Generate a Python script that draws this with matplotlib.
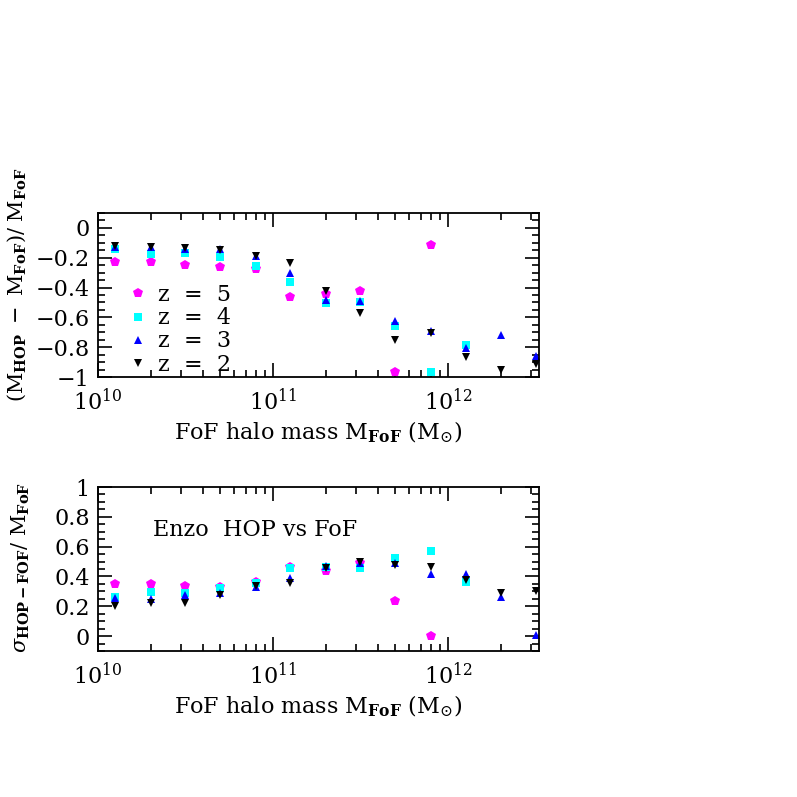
import matplotlib
matplotlib.use("Agg")
import matplotlib.pyplot as plt
from matplotlib.ticker import MultipleLocator, LogLocator, NullFormatter
import numpy as np

plt.rcParams['font.family'] = ['DejaVu Serif']
plt.rcParams['mathtext.fontset'] = 'dejavuserif'

log_mass = [10.1, 10.3, 10.5, 10.7, 10.9, 11.1, 11.3, 11.5, 11.7, 11.9, 12.1, 12.3, 12.5]

labels = ["z  =  5", "z  =  4", "z  =  3", "z  =  2"]
colors = ["#ff00ff", "#00ffff", "#0000ff", "#000000"]
markers = ["p", "s", "^", "v"]

# top panel: (M_HOP - M_FoF)/M_FoF
frac_z5 = [-0.226, -0.23, -0.248, -0.264, -0.273, -0.463, -0.44, -0.42, -0.964, -0.112]
frac_z4 = [-0.141, -0.177, -0.166, -0.197, -0.253, -0.36, -0.506, -0.494, -0.656, -0.964, -0.785]
frac_z3 = [-0.13, -0.13, -0.143, -0.141, -0.186, -0.30, -0.483, -0.488, -0.622, -0.689, -0.808, -0.72, -0.859]
frac_z2 = [-0.119, -0.125, -0.132, -0.15, -0.19, -0.233, -0.423, -0.573, -0.752, -0.707, -0.868, -0.955, -0.915]

# bottom panel: sigma/M_FoF
sig_z5 = [0.347, 0.347, 0.338, 0.329, 0.364, 0.465, 0.438, 0.488, 0.237, 0.002]
sig_z4 = [0.264, 0.297, 0.286, 0.32, 0.354, 0.454, 0.461, 0.458, 0.521, 0.573, 0.364]
sig_z3 = [0.257, 0.248, 0.275, 0.286, 0.331, 0.387, 0.47, 0.488, 0.492, 0.416, 0.414, 0.264, 0.007]
sig_z2 = [0.201, 0.224, 0.224, 0.275, 0.336, 0.358, 0.454, 0.495, 0.477, 0.461, 0.376, 0.286, 0.304]

top_series = [frac_z5, frac_z4, frac_z3, frac_z2]
bot_series = [sig_z5, sig_z4, sig_z3, sig_z2]

mass = 10 ** np.array(log_mass)

fig = plt.figure(figsize=(7.97, 7.97), dpi=100)
W, H = 797.0, 797.0
left, right = 98 / W, 539 / W
AW = 441.0
ax1 = fig.add_axes([left, 1 - 377 / H, right - left, 164 / H])
ax2 = fig.add_axes([left, 1 - 651 / H, right - left, 164 / H])

FS = 16
ms = [7, 5.5, 6, 6]
for ax, series in ((ax1, top_series), (ax2, bot_series)):
    for s, c, m, lab, sz in zip(series, colors, markers, labels, ms):
        ax.plot(mass[:len(s)], s, linestyle='none', marker=m, color=c,
                markersize=sz, markeredgewidth=0, label=lab)
    ax.set_xscale('log')
    ax.set_xlim(1e10, 10 ** 12.52)
    ax.xaxis.set_major_locator(LogLocator(base=10, numticks=10))
    ax.xaxis.set_minor_locator(LogLocator(base=10, subs=np.arange(2, 10), numticks=20))
    ax.xaxis.set_minor_formatter(NullFormatter())
    ax.tick_params(which='both', direction='in', top=True, right=True,
                   labelsize=FS, width=1.2, pad=6)
    ax.tick_params(axis='x', which='both', pad=8)
    ax.tick_params(which='major', length=10)
    ax.tick_params(which='minor', length=5)
    for sp in ax.spines.values():
        sp.set_linewidth(1.3)
    ax.set_xlabel(r'FoF halo mass $\mathrm{M_{\mathbf{FoF}}}$ $(\mathrm{M_{\odot}})$',
                  fontsize=FS, labelpad=4)

ax1.set_ylim(-1, 0.1)
ax1.yaxis.set_major_locator(MultipleLocator(0.2))
ax1.yaxis.set_minor_locator(MultipleLocator(0.05))
ax1.yaxis.set_major_formatter(plt.FuncFormatter(lambda v, p: '0' if abs(v) < 1e-9 else ('\u22121' if abs(v + 1) < 1e-9 else ('%.1f' % v).replace('-', '\u2212'))))
ax1.set_ylabel(r'$(\mathrm{M_{\mathbf{HOP}}\ -\ M_{\mathbf{FoF}}})/\ \mathrm{M_{\mathbf{FoF}}}$',
               fontsize=15)
ax1.yaxis.set_label_coords(-70 / AW, 0.56)

ax2.set_ylim(-0.1, 1)
ax2.yaxis.set_major_locator(MultipleLocator(0.2))
ax2.yaxis.set_minor_locator(MultipleLocator(0.05))
ax2.yaxis.set_major_formatter(plt.FuncFormatter(lambda v, p: '0' if abs(v) < 1e-9 else ('1' if abs(v - 1) < 1e-9 else '%.1f' % v)))
ax2.set_ylabel(r'$\sigma_{\mathbf{HOP-FOF}}/\ \mathrm{M_{\mathbf{FoF}}}$', fontsize=15)
ax2.yaxis.set_label_coords(-66 / AW, 0.51)

ax1.legend(loc='upper left', bbox_to_anchor=(0.04, 0.62), frameon=False, fontsize=FS,
           handletextpad=0.3, labelspacing=0.05, borderaxespad=0, handlelength=1.2)

ax2.text(0.125, 0.74, 'Enzo  HOP vs FoF', transform=ax2.transAxes, fontsize=FS,
         ha='left', va='center')

fig.savefig('out.png', dpi=100)
